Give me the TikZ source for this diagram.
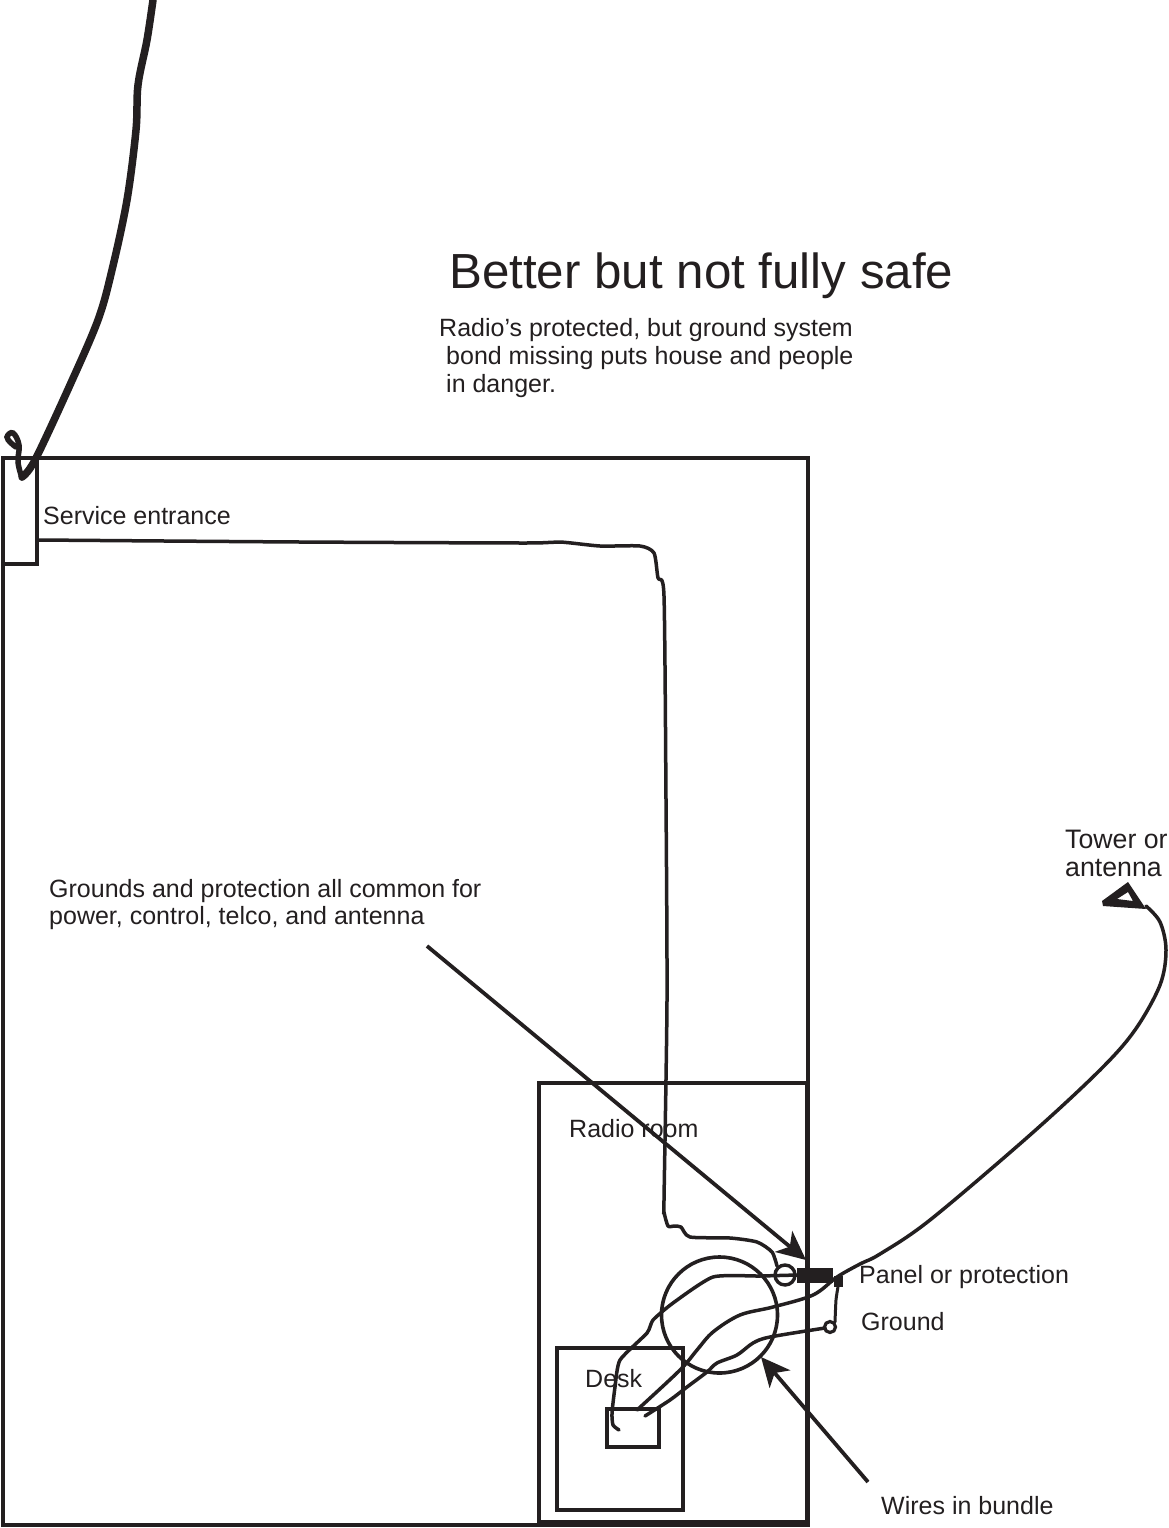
\documentclass[tikz,border=0pt]{standalone}
\usepackage{fontspec}
\setmainfont{Liberation Sans}
\usetikzlibrary{arrows.meta}
\definecolor{ink}{HTML}{231F20}
\tikzset{
  wire/.style={draw=ink,line width=3.5pt,line cap=round,line join=round},
  box/.style={draw=ink,line width=3.6pt,line join=miter},
  pointer/.style={draw=ink,line width=3.8pt,-{Stealth[length=29pt,width=27pt,inset=8pt]}},
  lbl/.style={text=ink,inner sep=0pt,anchor=base west,font=\fontsize{25}{28}\selectfont},
  lblbig/.style={lbl,font=\fontsize{26.7}{28}\selectfont},
}
\begin{document}
\begin{tikzpicture}[x=1pt,y=-1pt]
\useasboundingbox (0,0) rectangle (1168,1528);
\fill[white] (0,0) rectangle (1168,1528);
% text
\node[lbl,font=\fontsize{49.3}{52}\selectfont] (title) at (449,288) {Better but not fully safe};
\node[lbl] (n1) at (439,336) {Radio’s protected, but ground system};
\node[lbl] (n2) at (446,364) {bond missing puts house and people};
\node[lbl] (n3) at (446,392) {in danger.};
\node[lbl] (se) at (43,524) {Service entrance};
\node[lbl] (g1) at (49,897) {Grounds and protection all common for};
\node[lbl] (g2) at (49,924) {power, control, telco, and antenna};
\node[lbl] (rr) at (569,1137) {Radio room};
\node[lbl] (dk) at (585,1387) {Desk};
\node[lbl] (pp) at (859,1283) {Panel or protection};
\node[lbl] (gd) at (861,1330) {Ground};
\node[lbl] (wb) at (881,1514) {Wires in bundle};
\node[lblbig] (to) at (1065,848) {Tower or};
\node[lblbig] (an) at (1065,876) {antenna};
% boxes
\draw[box] (3,458) rectangle (808,1525);
\draw[box] (3,458) rectangle (37,564);
\draw[box,line width=4pt] (538.5,1082.5) rectangle (806.5,1522);
\draw[box] (557,1348) rectangle (683,1510);
\draw[box] (607,1409) rectangle (659,1447);
% circles
\node[draw=ink,line width=3.6pt,circle,minimum size=116pt,inner sep=0pt] (bundle) at (719.5,1315) {};
\node[draw=ink,line width=3.4pt,circle,minimum size=20pt,inner sep=0pt] (pc) at (785,1275) {};
\node[draw=ink,line width=3.2pt,circle,minimum size=11pt,inner sep=0pt] (gc) at (830,1327) {};
% panel
\node[fill=ink,minimum width=36pt,minimum height=15pt,inner sep=0pt] (panel) at (815,1275) {};
\node[fill=ink,minimum width=9pt,minimum height=11pt,inner sep=0pt] (pb) at (838,1281) {};
% overhead feed
\draw[draw=ink,line width=7.5pt,line cap=round,line join=round] plot[smooth,tension=0.55] coordinates {(153,0) (147,40) (138,85) (136,130) (127,200) (112,270) (98,320) (70,385) (35,460) (22,477)};
\draw[draw=ink,line width=5.5pt,line cap=round] plot[smooth,tension=0.7] coordinates {(22,478) (18,462) (19,445) (13,433) (7,437) (11,443) (16,447)};
% service wire
\coordinate (sv) at (38,540);
\draw[wire] plot[smooth,tension=0.4] coordinates {(sv) (300,542) (525,543) (560,542) (600,546) (640,546) (654,553) (658,578) (664,596) (666,800) (667,1000) (664,1200) (664,1212) (668,1226) (674,1226) (681,1227) (690,1237) (730,1238) (757,1242) (772,1252) (777,1266)};
% radio wire
\draw[wire] plot[smooth,tension=0.35] coordinates {(797,1275) (760,1276) (713,1277) (673,1303) (653,1320) (647,1333) (620,1360) (615,1387) (612,1413) (613,1425) (619,1430)};
% antenna wire through bundle
\draw[wire] plot[smooth,tension=0.55] coordinates {(1146,906) (1160,922) (1166,950) (1160,985) (1135,1030) (1100,1070) (1030,1135) (930,1220) (880,1254) (860,1264) (837,1277) (813,1295) (773,1307) (740,1315) (713,1332) (697,1350) (680,1370) (637,1410)};
% ground wire through bundle
\draw[wire] plot[smooth,tension=0.5] coordinates {(825,1328) (770,1337) (753,1343) (737,1355) (717,1363) (707,1372) (687,1387) (670,1400) (645,1416)};
\draw[wire,line width=3pt] plot[smooth,tension=0.4] coordinates {(pb.south) (836,1300) (835,1322)};
% tower
\fill[ink,even odd rule] (1102,901) -- (1128,882) -- (1146,909) -- (1103,906) -- cycle (1117,899) -- (1128,892) -- (1133,901) -- cycle;
% pointers
\coordinate (p1) at (427,946);
\coordinate (p1e) at (806,1260);
\coordinate (p2) at (868,1482);
\coordinate (p2e) at (761,1357);
\draw[pointer] (p1) -- (p1e);
\draw[pointer] (p2) -- (p2e);
\end{tikzpicture}
\end{document}
